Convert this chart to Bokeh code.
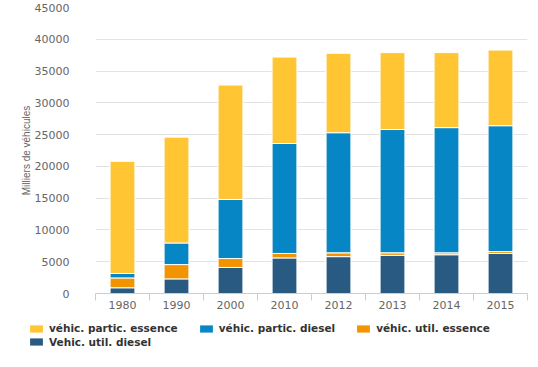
from bokeh.plotting import figure
from bokeh.layouts import column
from bokeh.models import ColumnDataSource, FixedTicker, Range1d, Legend, LegendItem
from bokeh.embed import file_html
from bokeh.resources import INLINE

years = ["1980", "1990", "2000", "2010", "2012", "2013", "2014", "2015"]
util_diesel = [900, 2300, 4100, 5600, 5800, 6000, 6100, 6300]
util_essence = [1550, 2250, 1400, 700, 600, 400, 300, 300]
partic_diesel = [700, 3400, 9300, 17300, 18900, 19400, 19700, 19800]
partic_essence = [17650, 16650, 18000, 13600, 12500, 12100, 11800, 11900]

series = ["util_diesel", "util_essence", "partic_diesel", "partic_essence"]
labels = ["Vehic. util. diesel", "véhic. util. essence", "véhic. partic. diesel", "véhic. partic. essence"]
colors = ["#295A82", "#F29400", "#0686C5", "#FFC532"]
y_ticks = [0, 5000, 10000, 15000, 20000, 25000, 30000, 35000, 40000, 45000]

n = len(years)
src = ColumnDataSource(dict(
    x=[i + 0.5 for i in range(n)],
    util_diesel=util_diesel, util_essence=util_essence,
    partic_diesel=partic_diesel, partic_essence=partic_essence,
))

p = figure(width=530, height=320, x_range=Range1d(0, n), y_range=Range1d(0, 45000),
           output_backend="svg", toolbar_location=None,
           min_border_left=95, min_border_right=3, min_border_top=7, min_border_bottom=27)
p.outline_line_color = None
p.xgrid.grid_line_color = None
p.ygrid.grid_line_color = "#e3e3e3"
p.ygrid.ticker = FixedTicker(ticks=y_ticks)
p.frame_align = False

rs = p.vbar_stack(series, x="x", width=0.46, fill_color=colors, line_color="white",
                  line_width=1, source=src)

# y axis
ya = p.yaxis[0]
ya.ticker = FixedTicker(ticks=y_ticks)
ya.axis_line_color = None
ya.major_tick_line_color = None
ya.minor_tick_line_color = None
ya.major_label_standoff = 20
ya.major_label_text_font = "DejaVu Sans"
ya.major_label_text_font_size = "11px"
ya.major_label_text_color = "#666666"
ya.axis_label = "Milliers de véhicules"
ya.axis_label_text_font = "Liberation Sans"
ya.axis_label_text_font_size = "10px"
ya.axis_label_text_font_style = "normal"
ya.axis_label_text_color = "#666666"
ya.axis_label_standoff = 0

# x axis
xa = p.xaxis[0]
xa.ticker = FixedTicker(ticks=[i + 0.5 for i in range(n)], minor_ticks=list(range(n + 1)))
xa.major_label_overrides = {i + 0.5: y for i, y in enumerate(years)}
xa.axis_line_color = "#C0D0E0"
xa.major_tick_line_color = None
xa.major_tick_out = 0
xa.major_tick_in = 0
xa.minor_tick_line_color = "#C0D0E0"
xa.minor_tick_out = 7
xa.minor_tick_in = 0
xa.major_label_standoff = 0
xa.major_label_text_font = "DejaVu Sans"
xa.major_label_text_font_size = "11px"
xa.major_label_text_color = "#666666"

# legend panel
p2 = figure(width=530, height=39, x_range=Range1d(0, 1), y_range=Range1d(0, 1),
            output_backend="svg", toolbar_location=None,
            x_axis_location=None, y_axis_location=None,
            min_border_left=28, min_border_top=0, min_border_right=0, min_border_bottom=0)
p2.outline_line_color = None
p2.grid.visible = False
p2.frame_align = False
dummy = ColumnDataSource(dict(x=[-5], top=[0]))
lr = [p2.vbar(x="x", top="top", width=0.1, fill_color=c, line_color=None, source=dummy)
      for c in colors]

leg_style = dict(orientation="horizontal", border_line_color=None, background_fill_alpha=0,
                 padding=0, margin=0, spacing=20, glyph_width=16, glyph_height=9,
                 label_standoff=5, label_height=9, label_text_font="DejaVu Sans",
                 label_text_font_size="10.5px", label_text_font_style="bold",
                 label_text_color="#333333")
leg1 = Legend(items=[LegendItem(label=labels[i], renderers=[lr[i]]) for i in [3, 2, 1]],
              location=(0, 25), **leg_style)
leg2 = Legend(items=[LegendItem(label=labels[0], renderers=[lr[0]])],
              location=(0, 11.5), **leg_style)
p2.add_layout(leg1, "center")
p2.add_layout(leg2, "center")

open("out.html", "w").write(file_html(column(p, p2, spacing=0), INLINE))
